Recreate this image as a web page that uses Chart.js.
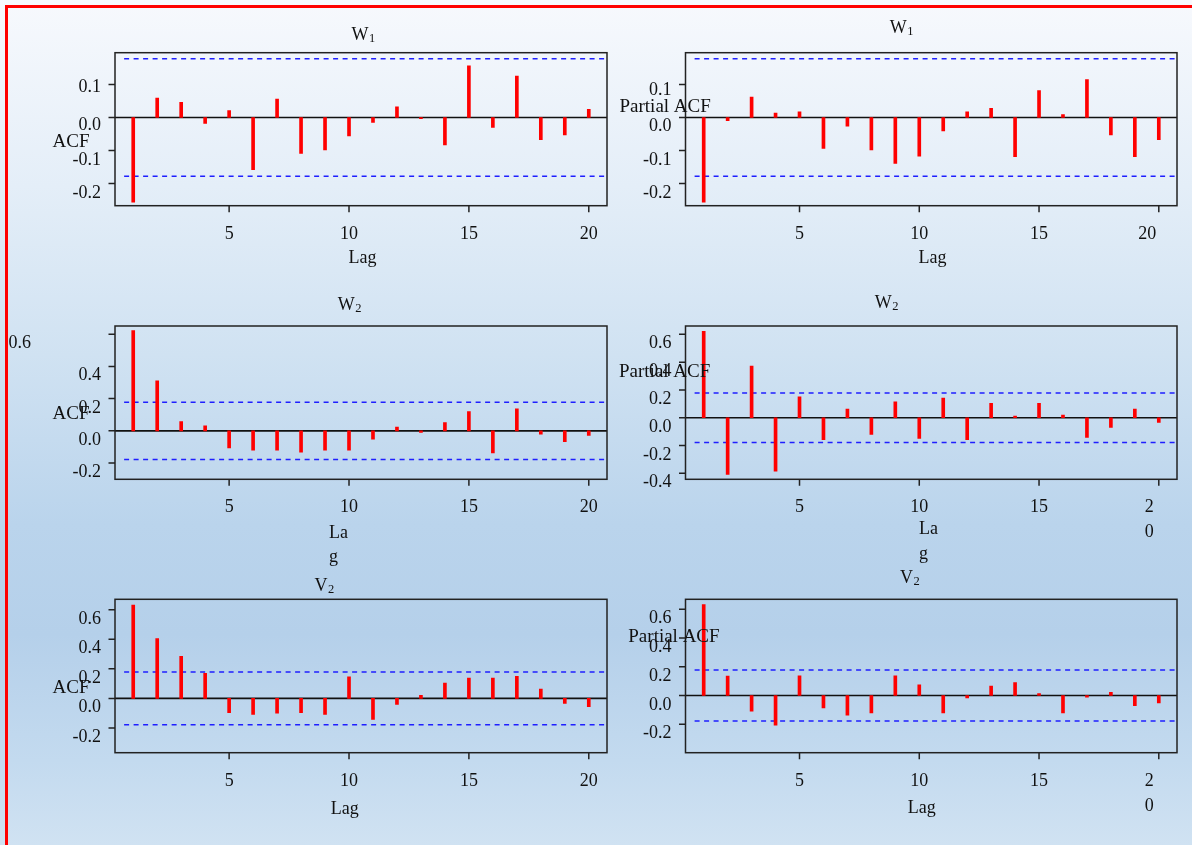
<!DOCTYPE html>
<html>
<head>
<meta charset="utf-8">
<script src="https://cdn.jsdelivr.net/npm/chart.js@4.4.1/dist/chart.umd.min.js"></script>
<style>
  html, body { margin: 0; padding: 0; }
  body {
    width: 1192px; height: 845px; overflow: hidden; position: relative;
    background: linear-gradient(to bottom, #f7f9fd 0%, #e4eef8 22%, #d0e2f2 42%, #bad4ec 62%, #b5d0ea 75%, #c3daef 90%, #d0e2f2 100%);
  }
  #frame {
    position: absolute; left: 5px; top: 5px; right: 0; bottom: 0;
    border-top: 3px solid #ff0000; border-left: 3px solid #ff0000;
  }
  canvas { position: absolute; left: 0; top: 0; }
</style>
</head>
<body>
<div id="frame"></div>
<script>
// ---- data -------------------------------------------------------------
const lags = [1, 2, 3, 4, 5, 6, 7, 8, 9, 10, 11, 12, 13, 14, 15, 16, 17, 18, 19, 20];
const lagTicks = [5, 10, 15, 20];
const lagRange = [0.24, 20.76];
const ciBound = 0.178;

const acfW1  = [-0.256, 0.059, 0.046, -0.018, 0.021, -0.158, 0.056, -0.109, -0.098, -0.056,
                -0.015, 0.032, -0.004, -0.083, 0.156, -0.030, 0.125, -0.067, -0.053, 0.025];
const pacfW1 = [-0.256, -0.010, 0.062, 0.013, 0.017, -0.094, -0.026, -0.098, -0.139, -0.117,
                -0.041, 0.017, 0.028, -0.119, 0.081, 0.009, 0.115, -0.053, -0.119, -0.067];
const acfW2  = [0.622, 0.311, 0.058, 0.031, -0.106, -0.120, -0.120, -0.133, -0.120, -0.120,
                -0.052, 0.023, -0.010, 0.052, 0.120, -0.137, 0.137, -0.021, -0.068, -0.029];
const pacfW2 = [0.621, -0.408, 0.372, -0.384, 0.151, -0.158, 0.062, -0.120, 0.115, -0.149,
                0.141, -0.158, 0.103, 0.012, 0.103, 0.019, -0.141, -0.070, 0.062, -0.034];
const acfV2  = [0.631, 0.405, 0.284, 0.169, -0.097, -0.108, -0.099, -0.097, -0.108, 0.146,
                -0.142, -0.041, 0.020, 0.104, 0.137, 0.137, 0.149, 0.063, -0.034, -0.056];
const pacfV2 = [0.633, 0.135, -0.109, -0.206, 0.137, -0.086, -0.137, -0.121, 0.137, 0.074,
                -0.121, -0.016, 0.065, 0.090, 0.014, -0.121, -0.012, 0.023, -0.070, -0.051];

const yTicksW1     = [-0.2, -0.1, 0.0, 0.1];
const yTicksW2Acf  = [-0.2, 0.0, 0.2, 0.4, 0.6];
const yTicksW2Pacf = [-0.4, -0.2, 0.0, 0.2, 0.4, 0.6];
const yTicksV2     = [-0.2, 0.0, 0.2, 0.4, 0.6];

// ---- layout -----------------------------------------------------------
const W = 1192, H = 845;
const SERIF = '"Liberation Serif", "Times New Roman", Times, serif';
const INK = '#111111';

const panels = [
  { values: acfW1, yTicks: yTicksW1, yRange: [-0.267, 0.196],
    box: { l: 115, t: 52.7, r: 607, b: 205.7 },
    title: { main: 'W', sub: '1', x: 351.4, base: 40 },
    yName: { text: 'ACF', x: 52.5, base: 146.7 },
    xName: { lines: ['Lag'], x: 362.5, base: 263.3, align: 'center' },
    yLabelDy: { '0.1': 8, '0.0': 12.5 } },
  { values: pacfW1, yTicks: yTicksW1, yRange: [-0.267, 0.196],
    box: { l: 685.5, t: 52.7, r: 1177, b: 205.7 },
    title: { main: 'W', sub: '1', x: 889.8, base: 32.7 },
    yName: { text: 'Partial ACF', x: 619.5, base: 111.7 },
    xName: { lines: ['Lag'], x: 932.6, base: 263.3, align: 'center' },
    yLabelDy: { '0.1': 11 },
    xLabelShift: { 20: -11.5 } },
  { values: acfW2, yTicks: yTicksW2Acf, yRange: [-0.301, 0.651],
    box: { l: 115, t: 326, r: 607, b: 479.3 },
    title: { main: 'W', sub: '2', x: 337.7, base: 310 },
    yName: { text: 'ACF', x: 52.5, base: 419.3 },
    xName: { lines: ['La', 'g'], x: 329, base: 538.3, lead: 24, align: 'left' },
    yLabelAt: { '0.6': { x: 8.5, align: 'left' } } },
  { values: pacfW2, yTicks: yTicksW2Pacf, yRange: [-0.443, 0.660],
    box: { l: 685.5, t: 326, r: 1177, b: 479.3 },
    title: { main: 'W', sub: '2', x: 874.7, base: 307.7 },
    yName: { text: 'Partial ACF', x: 619, base: 376.7 },
    xName: { lines: ['La', 'g'], x: 919, base: 534, lead: 24.5, align: 'left' },
    xLabelShift: { 20: -9.5 }, xLabelWrap: { 20: 25 } },
  { values: acfV2, yTicks: yTicksV2, yRange: [-0.367, 0.670],
    box: { l: 115, t: 599.3, r: 607, b: 752.7 },
    title: { main: 'V', sub: '2', x: 314.4, base: 590.7 },
    yName: { text: 'ACF', x: 52.5, base: 692.7 },
    xName: { lines: ['Lag'], x: 344.7, base: 814, align: 'center' } },
  { values: pacfV2, yTicks: yTicksV2, yRange: [-0.398, 0.670],
    box: { l: 685.5, t: 599.3, r: 1177, b: 752.7 },
    title: { main: 'V', sub: '2', x: 900, base: 582.7 },
    yName: { text: 'Partial ACF', x: 628.3, base: 641.7 },
    xName: { lines: ['Lag'], x: 921.7, base: 812.7, align: 'center' },
    xLabelShift: { 20: -9.5 }, xLabelWrap: { 20: 25 } }
];

// Frame, tick marks and all text for one correlogram panel.
function framePlugin(p) {
  return {
    id: 'corrFrame',
    afterDraw(chart) {
      const { ctx, chartArea: a, scales } = chart;
      const xs = scales.x, ys = scales.y;
      ctx.save();

      // plot box
      ctx.strokeStyle = '#222';
      ctx.lineWidth = 1.5;
      ctx.strokeRect(a.left, a.top, a.right - a.left, a.bottom - a.top);

      // tick marks
      ctx.beginPath();
      p.yTicks.forEach(v => {
        const py = ys.getPixelForValue(v);
        ctx.moveTo(a.left - 6.5, py); ctx.lineTo(a.left, py);
      });
      lagTicks.forEach(v => {
        const px = xs.getPixelForValue(v);
        ctx.moveTo(px, a.bottom); ctx.lineTo(px, a.bottom + 6.5);
      });
      ctx.stroke();

      ctx.fillStyle = INK;
      ctx.font = '18px ' + SERIF;
      ctx.textBaseline = 'alphabetic';

      // y tick labels
      p.yTicks.forEach(v => {
        const label = v.toFixed(1);
        const dy = (p.yLabelDy && p.yLabelDy[label] !== undefined) ? p.yLabelDy[label] : 14;
        const py = ys.getPixelForValue(v) + dy;
        const at = p.yLabelAt && p.yLabelAt[label];
        if (at) {
          ctx.textAlign = at.align;
          ctx.fillText(label, at.x, py);
        } else {
          ctx.textAlign = 'right';
          ctx.fillText(label, a.left - 14, py);
        }
      });

      // lag tick labels
      ctx.textAlign = 'center';
      lagTicks.forEach(v => {
        const label = String(v);
        const shift = (p.xLabelShift && p.xLabelShift[v]) || 0;
        const px = xs.getPixelForValue(v) + shift;
        const base = a.bottom + 33;
        const wrap = p.xLabelWrap && p.xLabelWrap[v];
        if (wrap) {
          label.split('').forEach((ch, i) => ctx.fillText(ch, px, base + i * wrap));
        } else {
          ctx.fillText(label, px, base);
        }
      });

      // axis names
      ctx.textAlign = p.xName.align;
      p.xName.lines.forEach((ln, i) => ctx.fillText(ln, p.xName.x, p.xName.base + i * (p.xName.lead || 0)));
      ctx.textAlign = 'left';
      ctx.font = '19px ' + SERIF;
      ctx.fillText(p.yName.text, p.yName.x, p.yName.base);

      // title with subscript
      ctx.font = '18px ' + SERIF;
      ctx.fillText(p.title.main, p.title.x, p.title.base);
      const w = ctx.measureText(p.title.main).width;
      ctx.font = '12.5px ' + SERIF;
      ctx.fillText(p.title.sub, p.title.x + w + 0.5, p.title.base + 2);

      ctx.restore();
    }
  };
}

panels.forEach((p, k) => {
  const cv = document.createElement('canvas');
  cv.width = W; cv.height = H;
  cv.id = 'corr' + k;
  document.body.appendChild(cv);

  const bars = lags.map((lag, i) => ({ x: lag, y: p.values[i] }));
  const hline = (v, x0, x1) => [{ x: x0, y: v }, { x: x1, y: v }];

  new Chart(cv.getContext('2d'), {
    type: 'bar',
    data: {
      datasets: [
        { type: 'bar', data: bars, backgroundColor: '#ff0000', borderWidth: 0,
          barThickness: 3, order: 0 },
        { type: 'line', data: hline(0, lagRange[0], lagRange[1]), borderColor: '#111',
          borderWidth: 1.6, pointRadius: 0, order: 2 },
        { type: 'line', data: hline(ciBound, 0.62, 20.68), borderColor: '#1f1fff',
          borderWidth: 1.5, borderDash: [5, 4.5], pointRadius: 0, order: 1 },
        { type: 'line', data: hline(-ciBound, 0.62, 20.68), borderColor: '#1f1fff',
          borderWidth: 1.5, borderDash: [5, 4.5], pointRadius: 0, order: 1 }
      ]
    },
    options: {
      responsive: false,
      animation: false,
      events: [],
      layout: { padding: { left: p.box.l, top: p.box.t, right: W - p.box.r, bottom: H - p.box.b } },
      scales: {
        x: { type: 'linear', offset: false, min: lagRange[0], max: lagRange[1], display: false },
        y: { type: 'linear', min: p.yRange[0], max: p.yRange[1], display: false }
      },
      plugins: { legend: { display: false }, tooltip: { enabled: false } }
    },
    plugins: [framePlugin(p)]
  });
});
</script>
</body>
</html>
